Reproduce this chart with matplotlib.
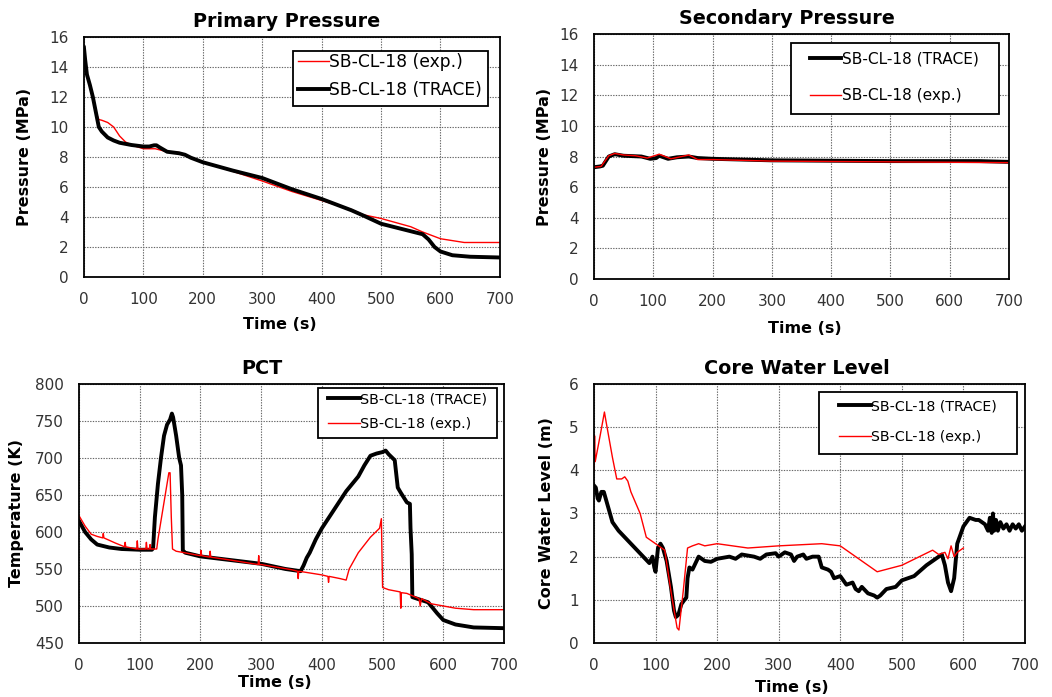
import matplotlib
matplotlib.use("Agg")
import matplotlib.pyplot as plt
from matplotlib.patches import Rectangle

plt.rcParams['font.family'] = ['DejaVu Sans']

# ---- Primary pressure (MPa) ----
pp_trace_t = [0, 2, 5, 10, 15, 20, 25, 30, 40, 50, 60, 80, 100, 110, 118, 122, 127, 140, 160, 170, 180,
              200, 250, 300, 350, 400, 450, 470, 500, 550, 570, 580, 590, 600, 620, 650, 700]
pp_trace_v = [15.3, 14.5, 13.5, 12.8, 12.0, 11.0, 10.0, 9.7, 9.3, 9.1, 8.95, 8.8, 8.7, 8.7, 8.78, 8.78, 8.65,
              8.35, 8.25, 8.15, 7.95, 7.65, 7.1, 6.6, 5.85, 5.2, 4.45, 4.1, 3.55, 3.05, 2.85, 2.5, 2.0,
              1.7, 1.45, 1.35, 1.3]
pp_exp_t = [0, 2, 5, 10, 15, 20, 25, 30, 40, 50, 60, 70, 80, 100, 120, 140, 160, 180, 200, 250, 300, 350,
            400, 450, 470, 500, 550, 570, 600, 640, 660, 700]
pp_exp_v = [15.3, 14.5, 13.5, 12.8, 12.0, 11.0, 10.5, 10.45, 10.3, 10.0, 9.4, 9.0, 8.8, 8.55, 8.55, 8.35,
            8.3, 7.95, 7.65, 7.05, 6.4, 5.7, 5.1, 4.5, 4.15, 3.9, 3.35, 3.0, 2.55, 2.3, 2.3, 2.3]

# ---- Secondary pressure (MPa) ----
sp_trace_t = [0, 10, 15, 25, 35, 50, 80, 95, 105, 110, 125, 140, 160, 175, 200, 300, 500, 650, 700]
sp_trace_v = [7.3, 7.35, 7.4, 8.0, 8.15, 8.05, 8.0, 7.85, 7.9, 8.05, 7.85, 7.95, 8.0, 7.9, 7.85, 7.75,
              7.7, 7.7, 7.65]
sp_exp_t = [0, 12, 25, 35, 50, 70, 90, 110, 130, 160, 175, 200, 300, 500, 700]
sp_exp_v = [7.3, 7.35, 8.05, 8.2, 8.1, 8.05, 7.9, 8.15, 7.85, 8.1, 7.8, 7.8, 7.7, 7.65, 7.6]

# ---- PCT (K) ----
pct_trace_t = [0, 10, 20, 30, 50, 70, 100, 120, 122, 125, 130, 135, 140, 145, 150, 153, 155, 160, 165,
               168, 170, 171, 175, 200, 250, 300, 340, 365, 370, 375, 380, 390, 400, 420, 440, 460, 470,
               480, 490, 500, 505, 510, 520, 525, 530, 540, 545, 546, 548, 549, 560, 575, 590, 600, 620,
               650, 700]
pct_trace_v = [615, 600, 590, 583, 579, 577, 576, 576, 578, 620, 665, 700, 730, 745, 752, 760, 755, 730,
               700, 690, 650, 575, 572, 567, 562, 557, 550, 547, 555, 565, 572, 590, 605, 630, 655, 675,
               690, 703, 706, 708, 710, 705, 697, 660, 653, 640, 638, 605, 570, 512, 509, 505, 490, 481,
               475, 471, 470]
pct_exp_t = [0, 10, 20, 30, 39, 40, 41, 60, 75, 76, 77, 95, 96, 97, 100, 110, 111, 112, 116, 117, 118,
             128, 130, 140, 145, 148, 150, 152, 154, 160, 200, 201, 202, 215, 216, 217, 250, 295, 296,
             297, 300, 350, 360, 361, 362, 400, 410, 411, 412, 430, 440, 445, 460, 480, 495, 498, 500,
             510, 529, 530, 531, 540, 560, 562, 564, 580, 600, 620, 650, 700]
pct_exp_v = [622, 608, 597, 594, 592, 598, 592, 585, 580, 586, 580, 577, 588, 577, 577, 577, 586, 577,
             577, 583, 577, 577, 590, 640, 665, 680, 680, 620, 577, 574, 568, 575, 568, 566, 574, 566,
             562, 556, 568, 556, 556, 549, 547, 537, 547, 542, 540, 532, 540, 537, 535, 550, 572, 593,
             605, 618, 525, 522, 519, 497, 518, 517, 510, 500, 510, 503, 500, 497, 495, 495]

# ---- Core water level (m) ----
cwl_trace_t = [0, 3, 6, 8, 12, 16, 20, 30, 40, 50, 60, 70, 80, 90, 95, 98, 100, 104, 108, 112, 118, 125,
               130, 133, 137, 142, 147, 150, 152, 155, 160, 165, 170, 180, 190, 200, 220, 230, 240, 260,
               270, 280, 295, 300, 310, 320, 325, 330, 340, 345, 355, 365, 370, 380, 385, 390, 400, 405,
               410, 420, 425, 430, 435, 445, 455, 460, 465, 475, 490, 500, 520, 540, 555, 565, 570, 575,
               580, 585, 590, 600, 610, 620, 625, 630, 635, 640, 643, 646, 648, 650, 653, 656, 660, 665,
               670, 675, 680, 685, 690, 695, 700]
cwl_trace_v = [3.65, 3.6, 3.35, 3.3, 3.5, 3.5, 3.3, 2.8, 2.6, 2.45, 2.3, 2.15, 2.0, 1.85, 2.0, 1.75,
               1.65, 2.2, 2.3, 2.2, 1.9, 1.3, 0.75, 0.6, 0.65, 0.9, 1.0, 1.05, 1.5, 1.75, 1.7, 1.85, 2.0,
               1.9, 1.88, 1.95, 2.0, 1.95, 2.05, 2.0, 1.95, 2.05, 2.08, 2.0, 2.1, 2.05, 1.9, 2.0, 2.05,
               1.95, 2.0, 2.0, 1.75, 1.7, 1.65, 1.5, 1.55, 1.45, 1.35, 1.4, 1.25, 1.2, 1.3, 1.15, 1.1,
               1.05, 1.1, 1.25, 1.3, 1.45, 1.55, 1.8, 1.95, 2.05, 1.8, 1.4, 1.2, 1.5, 2.3, 2.7, 2.9,
               2.85, 2.85, 2.8, 2.75, 2.6, 2.9, 2.55, 3.0, 2.6, 2.85, 2.6, 2.8, 2.65, 2.75, 2.6, 2.75,
               2.65, 2.75, 2.6, 2.7]
cwl_exp_t = [0, 1, 2, 10, 17, 20, 30, 37, 45, 50, 55, 60, 75, 85, 95, 105, 115, 125, 135, 138, 145, 152,
             160, 170, 180, 200, 250, 300, 370, 400, 460, 500, 550, 560, 570, 575, 580, 585, 590, 600]
cwl_exp_v = [4.0, 4.8, 4.2, 4.8, 5.35, 5.1, 4.3, 3.8, 3.8, 3.85, 3.75, 3.5, 3.0, 2.45, 2.35, 2.25, 2.15,
             1.2, 0.35, 0.3, 1.2, 2.2, 2.25, 2.3, 2.25, 2.3, 2.2, 2.25, 2.3, 2.25, 1.65, 1.8, 2.15, 2.05,
             2.1, 1.95, 2.25, 2.0, 2.1, 2.2]

lbl_trace = "SB-CL-18 (TRACE)"
lbl_exp = "SB-CL-18 (exp.)"


def setup(ax, title, ylabel, ylim, ystep, title_x, ylab_x, xlab_x, xlab_y):
    ax.set_xlim(0, 700)
    ax.set_ylim(*ylim)
    ax.set_xticks(range(0, 701, 100))
    ax.set_yticks(range(ylim[0], ylim[1] + 1, ystep))
    ax.grid(True, color="#666666", linestyle=(0, (1.2, 1.2)), linewidth=0.8)
    ax.set_axisbelow(True)
    for s in ax.spines.values():
        s.set_linewidth(1.3)
    ax.tick_params(labelsize=11, length=0, pad=11, labelcolor="#333333")
    ax.set_title(title, fontsize=13.8, fontweight="bold", pad=7, x=title_x)
    ax.set_xlabel("Time (s)", fontsize=11.5, fontweight="bold", va="center")
    ax.set_ylabel(ylabel, fontsize=11.5, fontweight="bold", va="center")
    ax.xaxis.set_label_coords(xlab_x, xlab_y)
    ax.yaxis.set_label_coords(ylab_x, 0.5)


# box = (x0, y0, x1, y1) in axes fraction, center = legend content centre
def legend(ax, box, center, size, spacing, hlen):
    ax.add_patch(Rectangle((box[0], box[1]), box[2] - box[0], box[3] - box[1],
                           transform=ax.transAxes, facecolor="white", edgecolor="black",
                           linewidth=1.3, zorder=4))
    leg = ax.legend(loc="center", bbox_to_anchor=center, fontsize=size, frameon=False,
                    handlelength=hlen, handletextpad=0.05, labelspacing=spacing,
                    borderpad=0, borderaxespad=0)
    leg.set_zorder(5)


fig = plt.figure(figsize=(10.52, 6.97), dpi=100)

ax1 = fig.add_axes([0.0798, 0.6026, 0.3954, 0.3443])
ax1.plot(pp_exp_t, pp_exp_v, color="red", lw=1.0, label=lbl_exp)
ax1.plot(pp_trace_t, pp_trace_v, color="black", lw=2.8, label=lbl_trace)
setup(ax1, "Primary Pressure", "Pressure (MPa)", (0, 16), 2, 0.488, -0.142, 0.471, -0.2)
legend(ax1, (0.502, 0.7125, 0.971, 0.942), (0.736, 0.8375), 12.3, 0.64, 1.8)

ax2 = fig.add_axes([0.5646, 0.5997, 0.3945, 0.3515])
ax2.plot(sp_trace_t, sp_trace_v, color="black", lw=2.8, label=lbl_trace)
ax2.plot(sp_exp_t, sp_exp_v, color="red", lw=1.0, label=lbl_exp)
setup(ax2, "Secondary Pressure", "Pressure (MPa)", (0, 16), 2, 0.465, -0.120, 0.508, -0.2)
legend(ax2, (0.475, 0.673, 0.976, 0.963), (0.724, 0.822), 11.1, 1.4, 2.0)

ax3 = fig.add_axes([0.0751, 0.0775, 0.4040, 0.3716])
ax3.plot(pct_trace_t, pct_trace_v, color="black", lw=2.8, label=lbl_trace)
ax3.plot(pct_exp_t, pct_exp_v, color="red", lw=1.0, label=lbl_exp)
setup(ax3, "PCT", "Temperature (K)", (450, 800), 50, 0.431, -0.148, 0.461, -0.154)
legend(ax3, (0.562, 0.7915, 0.984, 0.985), (0.774, 0.894), 10.3, 0.75, 2.2)

ax4 = fig.add_axes([0.5646, 0.0775, 0.4097, 0.3716])
ax4.plot(cwl_trace_t, cwl_trace_v, color="black", lw=2.8, label=lbl_trace)
ax4.plot(cwl_exp_t, cwl_exp_v, color="red", lw=1.0, label=lbl_exp)
setup(ax4, "Core Water Level", "Core Water Level (m)", (0, 6), 1, 0.471, -0.109, 0.459, -0.17)
legend(ax4, (0.522, 0.730, 0.981, 0.969), (0.752, 0.855), 10.2, 1.18, 2.25)

fig.savefig("out.png", dpi=100)
